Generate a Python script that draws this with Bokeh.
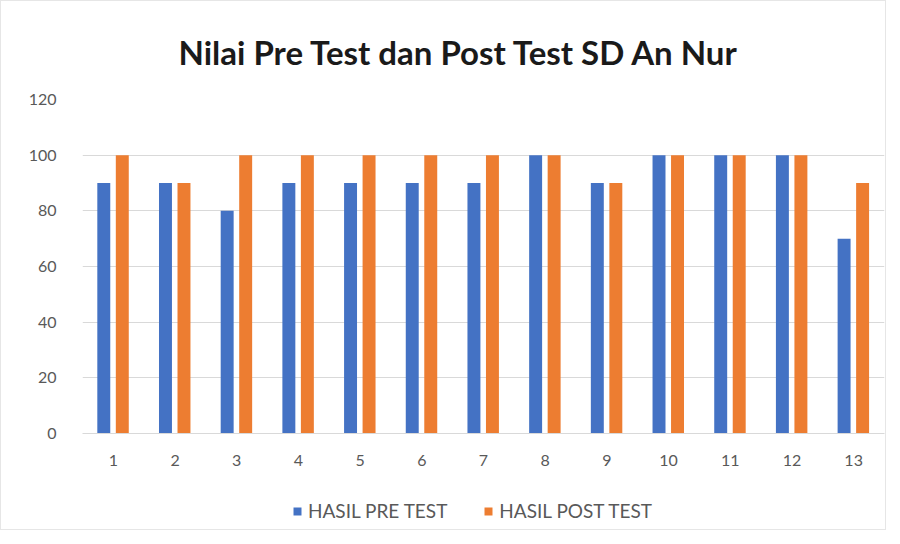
from bokeh.plotting import figure
from bokeh.models import ColumnDataSource, FactorRange, Range1d, FixedTicker, Legend, LegendItem
from bokeh.transform import dodge
from bokeh.layouts import column
from bokeh.embed import file_html
from bokeh.resources import INLINE

categories = ["1", "2", "3", "4", "5", "6", "7", "8", "9", "10", "11", "12", "13"]
pre_test = [90, 90, 80, 90, 90, 90, 90, 100, 90, 100, 100, 100, 70]
post_test = [100, 90, 100, 100, 100, 100, 100, 100, 90, 100, 100, 100, 90]
y_ticks = [0, 20, 40, 60, 80, 100, 120]
series_names = ["HASIL PRE TEST", "HASIL POST TEST"]
colors = ["#4472C4", "#ED7D31"]

src = ColumnDataSource(data=dict(cat=categories, pre=pre_test, post=post_test))

FONT = "Lato"
GREY = "#595959"

p = figure(width=884, height=480, x_range=FactorRange(*categories, range_padding=0),
           y_range=Range1d(0, 120), output_backend="svg", toolbar_location=None,
           title="Nilai Pre Test dan Post Test SD An Nur",
           min_border_left=81, min_border_right=1, min_border_top=98, min_border_bottom=48)

p.title.align = "left"
p.title.text_font = FONT
p.title.text_font_style = "bold"
p.title.text_font_size = "33px"
p.title.text_color = "#1a1a1a"
p.title.offset = 96
p.title.standoff = 56

p.vbar(x=dodge("cat", -0.155, range=p.x_range), top="pre", width=0.21, source=src,
       fill_color=colors[0], line_color=None)
p.vbar(x=dodge("cat", 0.145, range=p.x_range), top="post", width=0.21, source=src,
       fill_color=colors[1], line_color=None)

p.outline_line_color = None
p.xgrid.grid_line_color = None
p.ygrid.grid_line_color = "#d9d9d9"
p.ygrid.grid_line_width = 1

p.yaxis.ticker = FixedTicker(ticks=y_ticks)
p.yaxis.axis_line_color = None
p.yaxis.major_tick_line_color = None
p.yaxis.minor_tick_line_color = None
p.yaxis.major_label_standoff = 20
p.yaxis.major_label_text_font = FONT
p.yaxis.major_label_text_font_size = "16px"
p.yaxis.major_label_text_color = GREY

p.xaxis.axis_line_color = "#d9d9d9"
p.xaxis.major_tick_line_color = None
p.xaxis.minor_tick_line_color = None
p.xaxis.major_label_standoff = 15
p.xaxis.major_label_text_font = FONT
p.xaxis.major_label_text_font_size = "16px"
p.xaxis.major_label_text_color = GREY

# legend strip below the chart (same bars, drawn out of its visible y range)
lf = figure(width=884, height=48, x_range=FactorRange(*categories, range_padding=0),
            y_range=Range1d(1000, 1001), output_backend="svg", toolbar_location=None,
            x_axis_location=None, y_axis_location=None,
            min_border_left=0, min_border_right=0, min_border_top=0, min_border_bottom=0)
lf.grid.visible = False
lf.outline_line_color = None
d1 = lf.vbar(x="cat", top="pre", width=0.21, source=src, fill_color=colors[0], line_color=None)
d2 = lf.vbar(x="cat", top="post", width=0.21, source=src, fill_color=colors[1], line_color=None)
legend = Legend(items=[LegendItem(label=series_names[0], renderers=[d1]),
                       LegendItem(label=series_names[1], renderers=[d2])],
                orientation="horizontal", location=(210, 7))
legend.label_text_font = FONT
legend.label_text_font_size = "19px"
legend.label_text_color = GREY
legend.glyph_width = 10
legend.glyph_height = 10
legend.spacing = 36
legend.label_standoff = 6
legend.padding = 0
legend.margin = 0
legend.border_line_color = None
legend.background_fill_alpha = 0
lf.add_layout(legend, "center")

layout = column(p, lf, spacing=0, styles={"border": "1px solid #e6e6e6"})

open("out.html", "w").write(file_html(layout, INLINE))
